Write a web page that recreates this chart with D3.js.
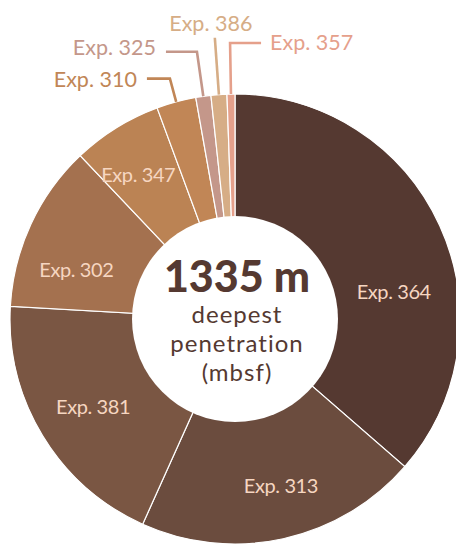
<!DOCTYPE html>
<html>
<head>
<meta charset="utf-8">
<script src="https://cdn.jsdelivr.net/npm/d3@7"></script>
<style>
  html, body { margin: 0; padding: 0; background: #fff; }
  svg { display: block; }
</style>
</head>
<body>
<svg id="chart" width="456" height="545"></svg>
<script>
// ---- data ----
const expeditions = ["Exp. 364", "Exp. 313", "Exp. 381", "Exp. 302", "Exp. 347", "Exp. 310", "Exp. 325", "Exp. 386", "Exp. 357"];
const shares = [131.0, 73.2, 69.0, 43.3, 23.2, 10.2, 3.9, 4.1, 2.05];
const colors = ["#553931", "#6b4c3e", "#7a5643", "#a4714f", "#bb8354", "#c18656", "#c4978a", "#d6ad86", "#e5a08b"];
const centerTitle = "1335 m";
const centerLines = ["deepest", "penetration", "(mbsf)"];

// ---- layout ----
const cx = 235, cy = 319, R = 225, r0 = 103;
// inner label placement (angle in degrees clockwise from top, radius)
const innerLabelLayout = {
  "Exp. 364": { a: 80.4, r: 161 },
  "Exp. 313": { a: 164.6, r: 173 },
  "Exp. 381": { a: 238.2, r: 167 },
  "Exp. 302": { a: 287.1, r: 166 },
  "Exp. 347": { a: 326.2, r: 174 }
};
// outer labels with leader lines
const outerLabelLayout = {
  "Exp. 310": { elbowR: 249, h: -23, dy: 1 },
  "Exp. 325": { elbowR: 270, h: -31, dy: -4 },
  "Exp. 386": { elbowR: 282, h: 0, dy: 0 },
  "Exp. 357": { elbowR: 276, h: 31, dy: -1 }
};

const svg = d3.select("#chart");
const g = svg.append("g").attr("transform", `translate(${cx},${cy})`);

const pie = d3.pie().sort(null).value((d, i) => shares[i]);
const arcs = pie(expeditions);
const arc = d3.arc().innerRadius(0).outerRadius(R);

g.selectAll("path.slice")
  .data(arcs)
  .join("path")
  .attr("class", "slice")
  .attr("d", arc)
  .attr("fill", (d, i) => colors[i])
  .attr("stroke", "#fff")
  .attr("stroke-width", 1.2);

// center circle
g.append("circle").attr("r", r0).attr("fill", "#fff");

const rad = a => a * Math.PI / 180;
const pt = (aRad, rr) => [rr * Math.sin(aRad), -rr * Math.cos(aRad)];

// inner labels
arcs.forEach((d, i) => {
  const L = innerLabelLayout[d.data];
  if (!L) return;
  const [x, y] = pt(rad(L.a), L.r);
  g.append("text")
    .attr("x", x).attr("y", y).attr("dy", "0.36em")
    .attr("text-anchor", "middle")
    .attr("font-family", "Lato, 'Open Sans', sans-serif")
    .attr("font-size", 20)
    .attr("letter-spacing", -0.4)
    .attr("fill", "#f6d6c1")
    .text(d.data);
});

// outer labels
arcs.forEach((d, i) => {
  const L = outerLabelLayout[d.data];
  if (!L) return;
  const mid = (d.startAngle + d.endAngle) / 2;
  const p0 = pt(mid, R);
  const p1 = pt(mid, L.elbowR);
  const p2 = [p1[0] + L.h, p1[1]];
  g.append("polyline")
    .attr("points", [p0, p1, p2].map(p => p.join(",")).join(" "))
    .attr("fill", "none")
    .attr("stroke", colors[i])
    .attr("stroke-width", 2.6);
  const t = g.append("text")
    .attr("font-family", "Lato, 'Open Sans', sans-serif")
    .attr("font-size", 21.5)
    .attr("fill", colors[i])
    .text(d.data);
  if (L.h === 0) {
    t.attr("x", p1[0] - 4).attr("y", p1[1] - 7).attr("text-anchor", "middle");
  } else if (L.h < 0) {
    t.attr("x", p2[0] - 10).attr("y", p2[1] + L.dy).attr("dy", "0.36em").attr("text-anchor", "end");
  } else {
    t.attr("x", p2[0] + 9).attr("y", p2[1] + L.dy).attr("dy", "0.36em").attr("text-anchor", "start");
  }
});

// center text
const ct = g.append("g").attr("fill", "#553931").attr("font-family", "Lato, 'Open Sans', sans-serif").attr("text-anchor", "middle");
ct.append("text").attr("x", 2).attr("y", -27).attr("font-size", 43).attr("font-weight", 900).text(centerTitle);
centerLines.forEach((s, k) => {
  ct.append("text").attr("x", 2).attr("y", 4 + k * 29).attr("font-size", 24).attr("letter-spacing", 1).text(s);
});
</script>
</body>
</html>
